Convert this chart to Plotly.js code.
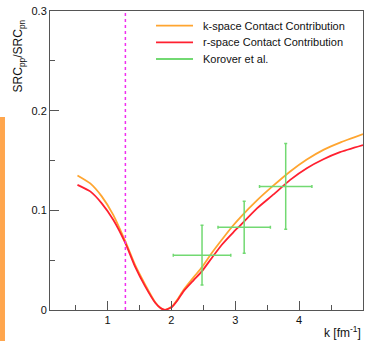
<!DOCTYPE html>
<html>
<head>
<meta charset="utf-8">
<script src="https://cdn.plot.ly/plotly-3.0.1.min.js"></script>
<style>
html,body{margin:0;padding:0;background:#fff;}
#chart{width:365px;height:341px;}
</style>
</head>
<body>
<div id="chart"></div>
<script>
// k-space contact contribution
var kOrange = [0.53,0.73,0.91,1.09,1.28,1.43,1.59,1.75,1.83,1.9,2.01,2.1,2.19,2.35,2.48,2.63,2.79,2.97,3.08,3.34,3.6,3.86,4.12,4.38,4.64,5.0];
var yOrange = [0.135,0.127,0.114,0.0955,0.0688,0.0454,0.0254,0.0075,0.002,0.0,0.0035,0.011,0.020,0.033,0.043,0.057,0.0705,0.085,0.093,0.110,0.125,0.139,0.151,0.1607,0.168,0.1765];
// r-space contact contribution
var kRed = [0.53,0.73,0.91,1.09,1.28,1.43,1.59,1.75,1.83,1.9,2.01,2.1,2.19,2.35,2.48,2.63,2.79,2.97,3.08,3.34,3.6,3.86,4.12,4.38,4.64,5.0];
var yRed = [0.1256,0.119,0.107,0.0905,0.067,0.0437,0.0237,0.007,0.002,0.0,0.003,0.010,0.0187,0.030,0.039,0.052,0.0655,0.078,0.085,0.102,0.116,0.1306,0.1423,0.1513,0.1584,0.1655];
// Korover et al. data
var kData = [2.48, 3.14, 3.79];
var yData = [0.055, 0.083, 0.124];
var kErr = [0.45, 0.41, 0.41];
var yErr = [0.030, 0.026, 0.043];
// vertical marker
var kLine = 1.28;
var legendNames = ["k-space Contact Contribution", "r-space Contact Contribution", "Korover et al."];

var cOrange = '#ffa530', cRed = '#ff2030', cGreen = '#72d972';
var legendColors = [cOrange, cRed, cGreen];
var fontFam = '"Liberation Sans", Arial, Helvetica, sans-serif';

var traces = [
  {x:kOrange, y:yOrange, mode:'lines', name:legendNames[0], line:{color:cOrange, width:1.8, shape:'spline', smoothing:0.5}},
  {x:kRed, y:yRed, mode:'lines', name:legendNames[1], line:{color:cRed, width:1.8, shape:'spline', smoothing:0.5}},
  {x:kData, y:yData, mode:'markers', name:legendNames[2], marker:{size:0.1, color:cGreen},
   error_x:{type:'data', array:kErr, visible:true, color:cGreen, thickness:1.5, width:1.5},
   error_y:{type:'data', array:yErr, visible:true, color:cGreen, thickness:1.5, width:1.5}}
];

var axisCommon = {
  showgrid:false, zeroline:false, showline:true, linecolor:'#555', linewidth:1, mirror:true,
  ticks:'inside', tickcolor:'#555', tickwidth:1, ticklen:9,
  tickfont:{family:fontFam, size:11, color:'#111'}
};

var shapes = [
  {type:'line', xref:'x', yref:'paper', x0:kLine, x1:kLine, y0:0, y1:1,
   line:{color:'#f030f0', width:1.5, dash:'dot'}},
  {type:'rect', xref:'paper', yref:'paper', x0:-0.1597, x1:-0.1438, y0:-0.11, y1:0.6455,
   line:{width:0}, fillcolor:'#ffa64d'}
];
var annotations = [
  {xref:'paper', yref:'paper', x:-0.096, y:0.98, xanchor:'center', yanchor:'top', textangle:-90,
   showarrow:false, text:'SRC<sub>pp</sub>/SRC<sub>pn</sub>', font:{family:fontFam, size:12, color:'#111'}},
  {xref:'paper', yref:'paper', x:1, y:-0.0736, xanchor:'right', yanchor:'middle',
   showarrow:false, text:'k [fm<sup>-1</sup>]', font:{family:fontFam, size:12, color:'#111'}}
];
// manual legend (ROOT style)
var legRowY = [0.9508, 0.8953, 0.8395];
for (var i = 0; i < legendNames.length; i++) {
  shapes.push({type:'line', xref:'paper', yref:'paper', x0:0.3387, x1:0.4569, y0:legRowY[i], y1:legRowY[i],
               line:{color:legendColors[i], width:1.8}});
  annotations.push({xref:'paper', yref:'paper', x:0.4824, y:legRowY[i], xanchor:'left', yanchor:'middle',
               showarrow:false, text:legendNames[i], font:{family:fontFam, size:11, color:'#111'}});
}

var layout = {
  width:365, height:341,
  margin:{l:50, r:2, t:11, b:31, pad:0},
  paper_bgcolor:'#fff', plot_bgcolor:'#fff',
  font:{family:fontFam, size:11, color:'#111'},
  showlegend:false,
  xaxis:Object.assign({}, axisCommon, {range:[0.1,5], tick0:0, dtick:1,
     minor:{dtick:0.5, ticks:'inside', ticklen:5, tickcolor:'#555', tickwidth:1}}),
  yaxis:Object.assign({}, axisCommon, {range:[0,0.3], tick0:0, dtick:0.1,
     minor:{dtick:0.05, ticks:'inside', ticklen:5, tickcolor:'#555', tickwidth:1}}),
  shapes:shapes,
  annotations:annotations
};

Plotly.newPlot('chart', traces, layout, {displayModeBar:false, staticPlot:true});
</script>
</body>
</html>
